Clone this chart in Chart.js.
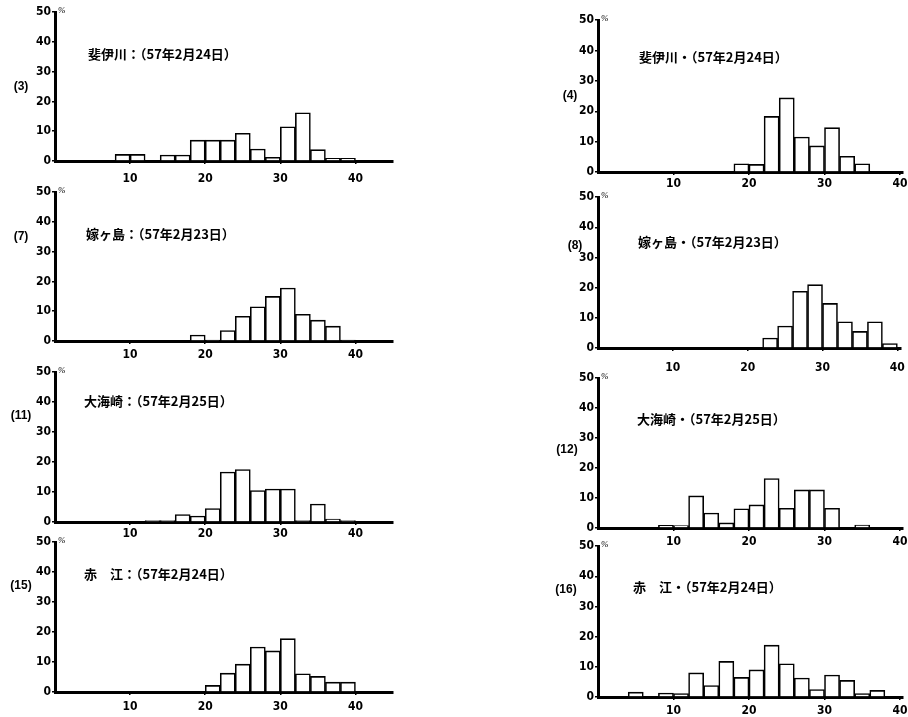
<!DOCTYPE html>
<html>
<head>
<meta charset="utf-8">
<script src="https://cdn.jsdelivr.net/npm/chart.js@4/dist/chart.umd.min.js"></script>
<style>
body { margin: 0; background: #fff; width: 908px; height: 717px; position: relative; overflow: hidden; }
canvas { position: absolute; }
</style>
</head>
<body>
<canvas id="c3"></canvas>
<canvas id="c7"></canvas>
<canvas id="c11"></canvas>
<canvas id="c15"></canvas>
<canvas id="c4"></canvas>
<canvas id="c8"></canvas>
<canvas id="c12"></canvas>
<canvas id="c16"></canvas>
<script>
// bin centres (2-unit classes 0-2 ... 38-40)
const binCenters = [1, 3, 5, 7, 9, 11, 13, 15, 17, 19, 21, 23, 25, 27, 29, 31, 33, 35, 37, 39];
const xTicks = [10, 20, 30, 40];
const yTicks = [0, 10, 20, 30, 40, 50];

const panelNos = ['(3)', '(7)', '(11)', '(15)', '(4)', '(8)', '(12)', '(16)'];
const titles = [
  '斐伊川：（57年2月24日）',
  '嫁ヶ島：（57年2月23日）',
  '大海崎：（57年2月25日）',
  '赤　江：（57年2月24日）',
  '斐伊川・（57年2月24日）',
  '嫁ヶ島・（57年2月23日）',
  '大海崎・（57年2月25日）',
  '赤　江・（57年2月24日）'
];

const v3  = [0, 0, 0, 0, 2.2, 2.2, 0, 2, 2, 7, 7, 7, 9.3, 4, 1.2, 11.5, 16.2, 3.8, 0.9, 0.9];
const v7  = [0, 0, 0, 0, 0, 0, 0, 0, 0, 2, 0.3, 3.5, 8.3, 11.5, 15, 17.8, 9, 7, 5, 0.3];
const v11 = [0, 0, 0, 0, 0, 0, 0.5, 0.5, 2.5, 2, 4.5, 16.7, 17.5, 10.5, 11, 11, 0.5, 6, 1, 0.5];
const v15 = [0, 0, 0, 0, 0, 0, 0, 0, 0, 0, 2.2, 6.3, 9.3, 15, 13.7, 17.8, 6.1, 5.2, 3.3, 3.3];
const v4  = [0, 0, 0, 0, 0, 0, 0, 0, 0, 2.7, 2.5, 18.3, 24.4, 11.5, 8.6, 14.6, 5.2, 2.7, 0, 0];
const v8  = [0, 0, 0, 0, 0, 0, 0, 0, 0, 0, 0, 3.3, 7.3, 18.8, 21, 14.8, 8.7, 5.5, 8.7, 1.5];
const v12 = [0, 0, 0, 0, 0.9, 0.8, 10.7, 5, 1.7, 6.4, 7.7, 16.5, 6.6, 12.7, 12.7, 6.6, 0, 1, 0, 0];
const v16 = [0, 0, 1.6, 0, 1.3, 1.1, 8, 3.8, 11.8, 6.5, 9, 17.2, 11, 6.3, 2.5, 7.3, 5.5, 1.1, 2.2, 0];

const allValues = [v3, v7, v11, v15, v4, v8, v12, v16];
const canvasIds = ['c3', 'c7', 'c11', 'c15', 'c4', 'c8', 'c12', 'c16'];

// layout: axis x, pixel of 50 and of 0, x max, label offsets
const L = 52, T = 8, B = 28, R = 12;
const layout = [
  { ax: 55,  top: 12,  bot: 161, xmax: 45,   pw: 338, xpad: 8,  labelDx: 34, labelY: 25,   titleDx: 33, titleY: 36 },
  { ax: 55,  top: 192, bot: 341, xmax: 45,   pw: 338, xpad: 4,  labelDx: 34, labelY: 35,   titleDx: 31, titleY: 36 },
  { ax: 55,  top: 372, bot: 522, xmax: 45,   pw: 338, xpad: 2,  labelDx: 34, labelY: 35.5, titleDx: 29, titleY: 40.5 },
  { ax: 55,  top: 542, bot: 692, xmax: 45,   pw: 338, xpad: 5,  labelDx: 34, labelY: 35.5, titleDx: 29, titleY: 39.5 },
  { ax: 598, top: 20,  bot: 172, xmax: 40.4, pw: 305, xpad: 2,  labelDx: 28, labelY: 25,   titleDx: 41, titleY: 38 },
  { ax: 598, top: 197, bot: 348, xmax: 40.4, pw: 305, xpad: 10, labelDx: 23, labelY: 34,   titleDx: 40, titleY: 35 },
  { ax: 598, top: 378, bot: 528, xmax: 40.4, pw: 305, xpad: 4,  labelDx: 31, labelY: 26,   titleDx: 39, titleY: 36.5 },
  { ax: 598, top: 546, bot: 697, xmax: 40.4, pw: 305, xpad: 4,  labelDx: 32, labelY: 35.5, titleDx: 35, titleY: 36.5 }
];

const tickFont = { family: '"Liberation Sans Narrow", "DejaVu Sans Condensed", sans-serif', size: 12, weight: 'bold' };

// panel number, site title and % sign
const annot = {
  id: 'annot',
  afterDraw(chart, args, opts) {
    const ctx = chart.ctx, area = chart.chartArea, y = chart.scales.y;
    ctx.save();
    ctx.fillStyle = '#000';
    ctx.textBaseline = 'middle';
    ctx.font = 'bold 13px "Noto Sans CJK JP", sans-serif';
    ctx.textAlign = 'left';
    ctx.fillText(opts.title, area.left + opts.titleDx, y.getPixelForValue(opts.titleY));
    ctx.font = 'bold 12px "Liberation Sans Narrow", sans-serif';
    ctx.textAlign = 'center';
    ctx.fillText(opts.label, area.left - opts.labelDx, y.getPixelForValue(opts.labelY));
    ctx.font = 'italic 9px "Liberation Serif", serif';
    ctx.textAlign = 'left';
    ctx.fillText('%', area.left + 3, area.top - 2);
    ctx.restore();
  }
};

function makeChart(i) {
  const lay = layout[i];
  const cv = document.getElementById(canvasIds[i]);
  const w = L + lay.pw + R, h = T + (lay.bot - lay.top) + B;
  cv.width = w; cv.height = h;
  cv.style.left = (lay.ax - L) + 'px';
  cv.style.top = (lay.top - T) + 'px';

  const points = binCenters.map((c, k) => ({ x: c, y: allValues[i][k] }));

  new Chart(cv.getContext('2d'), {
    type: 'bar',
    data: {
      datasets: [{
        data: points,
        backgroundColor: '#fff',
        borderColor: '#000',
        borderWidth: 1.6,
        barPercentage: 1,
        categoryPercentage: 1
      }]
    },
    options: {
      responsive: false,
      animation: false,
      devicePixelRatio: 1,
      layout: { padding: { top: T, right: R, left: 0, bottom: 0 } },
      plugins: {
        legend: { display: false },
        tooltip: { enabled: false },
        annot: { title: titles[i], label: panelNos[i], labelDx: lay.labelDx, labelY: lay.labelY, titleDx: lay.titleDx, titleY: lay.titleY }
      },
      scales: {
        x: {
          type: 'linear',
          min: 0,
          max: lay.xmax,
          offset: false,
          z: 1,
          afterBuildTicks: s => { s.ticks = xTicks.map(v => ({ value: v })); },
          afterFit: s => { s.height = B; },
          border: { color: '#000', width: 3 },
          grid: { drawOnChartArea: false, color: '#000', tickLength: 3, lineWidth: 1.5, offset: false },
          ticks: { color: '#000', font: tickFont, padding: lay.xpad, maxRotation: 0 }
        },
        y: {
          min: 0,
          max: 50,
          z: 1,
          afterBuildTicks: s => { s.ticks = yTicks.map(v => ({ value: v })); },
          afterFit: s => { s.width = L; },
          border: { color: '#000', width: 3 },
          grid: { drawOnChartArea: false, color: '#000', tickLength: 3, lineWidth: 1.5 },
          ticks: { color: '#000', font: tickFont, padding: 1 }
        }
      }
    },
    plugins: [annot]
  });
}

for (let i = 0; i < allValues.length; i++) makeChart(i);
</script>
</body>
</html>
